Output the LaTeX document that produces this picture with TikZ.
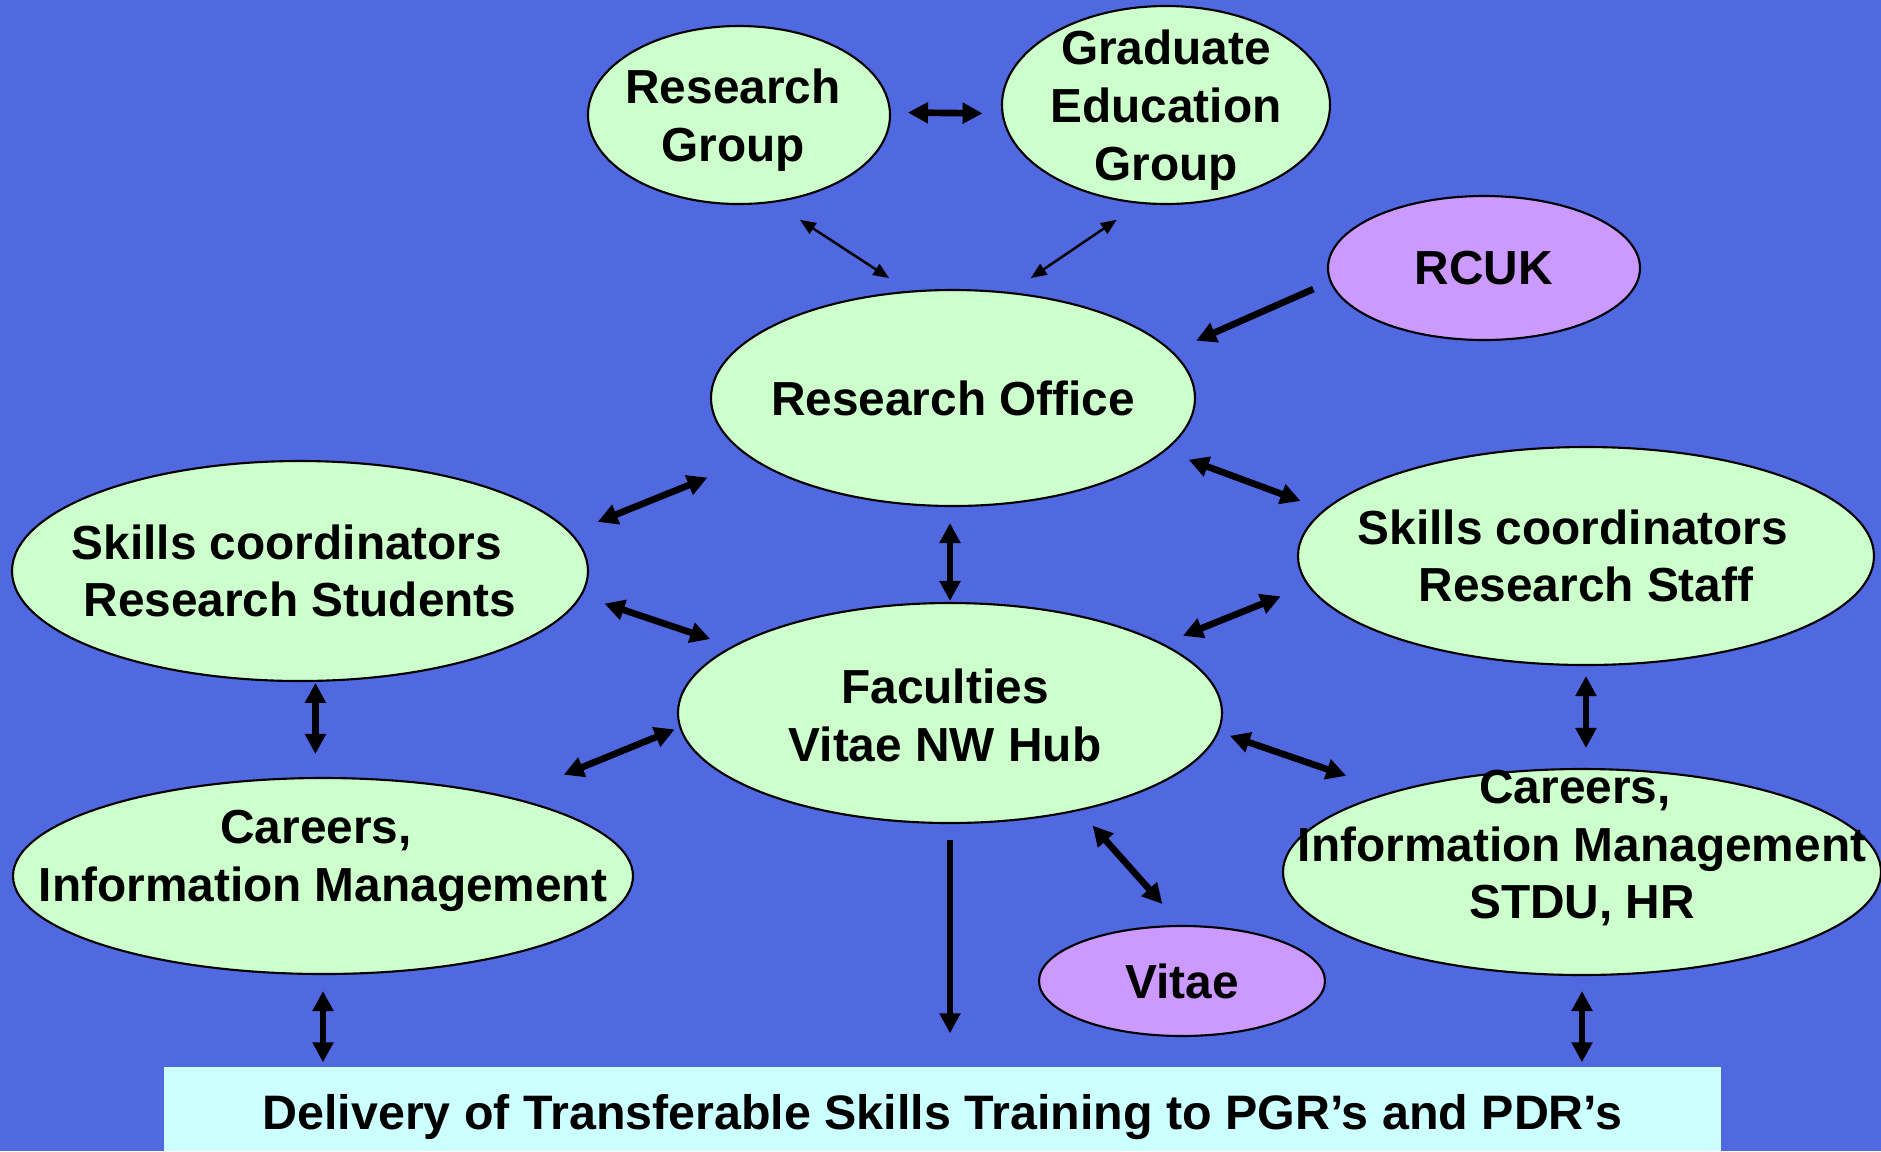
\documentclass[tikz,border=0pt]{standalone}
\usepackage{fontspec}
\setmainfont{Liberation Sans}
\usetikzlibrary{shapes.geometric,arrows.meta}
\definecolor{slide}{RGB}{80,104,224}
\definecolor{mint}{RGB}{204,255,204}
\definecolor{lilac}{RGB}{204,153,255}
\definecolor{pale}{RGB}{204,255,255}
\newcommand{\slidefont}{\bfseries\fontsize{13.6}{16.4}\selectfont}

\begin{document}
\begin{tikzpicture}[x=1cm, y=-1cm,
  every label/.style={align=center, font=\slidefont, inner sep=0pt},
  blob/.style={ellipse, draw, line width=0.6pt, fill=mint, inner sep=0pt, outer sep=0pt},
  agency/.style={blob, fill=lilac},
  link/.style={line width=1.9pt, {Triangle[length=5.7pt,width=5.7pt]}-{Triangle[length=5.7pt,width=5.7pt]}},
  oneway/.style={line width=1.9pt, -{Triangle[length=5.7pt,width=5.7pt]}},
  thinlink/.style={line width=0.7pt, {Triangle[length=4.5pt,width=3.6pt]}-{Triangle[length=4.5pt,width=3.6pt]}}]
			\useasboundingbox (0,0) rectangle (18.81,11.51);
			\fill[slide] (0,0) rectangle (18.81,11.51);
			
			\node[blob, minimum width=3.02cm, minimum height=1.78cm, label={[xshift=-0.06cm, yshift=-0.05cm]center:Research\\Group}] (rg) at (7.39,1.15) {};
			\node[blob, minimum width=3.28cm, minimum height=1.98cm, label={[yshift=-0.05cm]center:Graduate\\Education\\Group}] (geg) at (11.66,1.05) {};
			\node[agency, minimum width=3.12cm, minimum height=1.44cm, label={center:RCUK}] (rcuk) at (14.84,2.68) {};
			\node[blob, minimum width=4.84cm, minimum height=2.16cm, label={center:Research Office}] (ro) at (9.53,3.98) {};
			\node[blob, minimum width=5.76cm, minimum height=2.20cm, label={center:Skills coordinators\hspace*{0.26cm}\\Research Students}] (srs) at (3.00,5.71) {};
			\node[blob, minimum width=5.76cm, minimum height=2.18cm, label={center:Skills coordinators\hspace*{0.26cm}\\Research Staff}] (sst) at (15.86,5.56) {};
			\node[blob, minimum width=5.44cm, minimum height=2.20cm, label={[xshift=-0.05cm, yshift=-0.025cm]center:Faculties\\Vitae NW Hub}] (fac) at (9.50,7.13) {};
			\node[blob, minimum width=6.20cm, minimum height=1.96cm, label={[yshift=0.15cm]center:Careers,\hspace*{0.14cm}\\Information Management}] (cl) at (3.23,8.76) {};
			\node[blob, minimum width=5.98cm, minimum height=2.06cm, label={[yshift=0.24cm]center:Careers,\hspace*{0.14cm}\\Information Management\\STDU, HR}] (cr) at (15.82,8.72) {};
			\node[agency, minimum width=2.86cm, minimum height=1.10cm, label={center:Vitae}] (vitae) at (11.82,9.81) {};
			\node[fill=pale, minimum width=15.57cm, minimum height=0.84cm, inner sep=0pt, label={[yshift=-0.08cm, font=\bfseries\fontsize{13.77}{16.4}\selectfont]center:Delivery of Transferable Skills Training to PGR’s and PDR’s}] (del) at (9.425,11.09) {};
			
			\draw[link, shorten <=0.18cm, shorten >=0.2cm] (rg.1) -- (geg.183);
			\draw[thinlink, shorten <=0.33cm, shorten >=0.25cm] (rg.-69) -- (ro.112.5);
			\draw[thinlink, shorten <=0.3cm, shorten >=0.265cm] (geg.256.5) -- (ro.62.4);
			\draw[oneway, shorten <=0.19cm, shorten >=0.27cm] (rcuk.185.5) -- (ro.12.3);
			\draw[link, shorten <=0.495cm, shorten >=0.295cm] (ro.197.5) -- (srs.8.4);
			\draw[link, shorten <=0.26cm, shorten >=0.26cm] (ro.-14.7) -- (sst.170.8);
			\draw[link, shorten <=0.17cm, shorten >=0.02cm] (fac.north |- ro.south) -- (fac.north);
			\draw[link, shorten <=0.25cm, shorten >=0.24cm] (srs.-5) -- (fac.163.4);
			\draw[link, shorten <=0.3cm, shorten >=0.225cm] (sst.186.9) -- (fac.18.7);
			\draw[link, shorten <=0.02cm, shorten >=0.24cm] (srs.-82) -- (srs.-82 |- cl.north);
			\draw[link, shorten <=0.06cm, shorten >=0.6cm] (fac.183.8) -- (cl.23);
			\draw[link, shorten <=0.125cm, shorten >=0.5cm] (fac.-4) -- (cr.157.4);
			\draw[link, shorten <=0.11cm, shorten >=0.21cm] (sst.south) -- (sst.south |- cr.north);
			\draw[link, shorten <=0.21cm, shorten >=0.295cm] (fac.-37.3) -- (vitae.north);
			\draw[oneway, shorten <=0.17cm, shorten >=0.33cm] (fac.south) -- (fac.south |- del.north);
			\draw[link, shorten <=0.17cm, shorten >=0.04cm] (cl.south) -- (cl.south |- del.north);
			\draw[link, shorten <=0.16cm, shorten >=0.04cm] (cr.south) -- (cr.south |- del.north);
		\end{tikzpicture}
\end{document}
